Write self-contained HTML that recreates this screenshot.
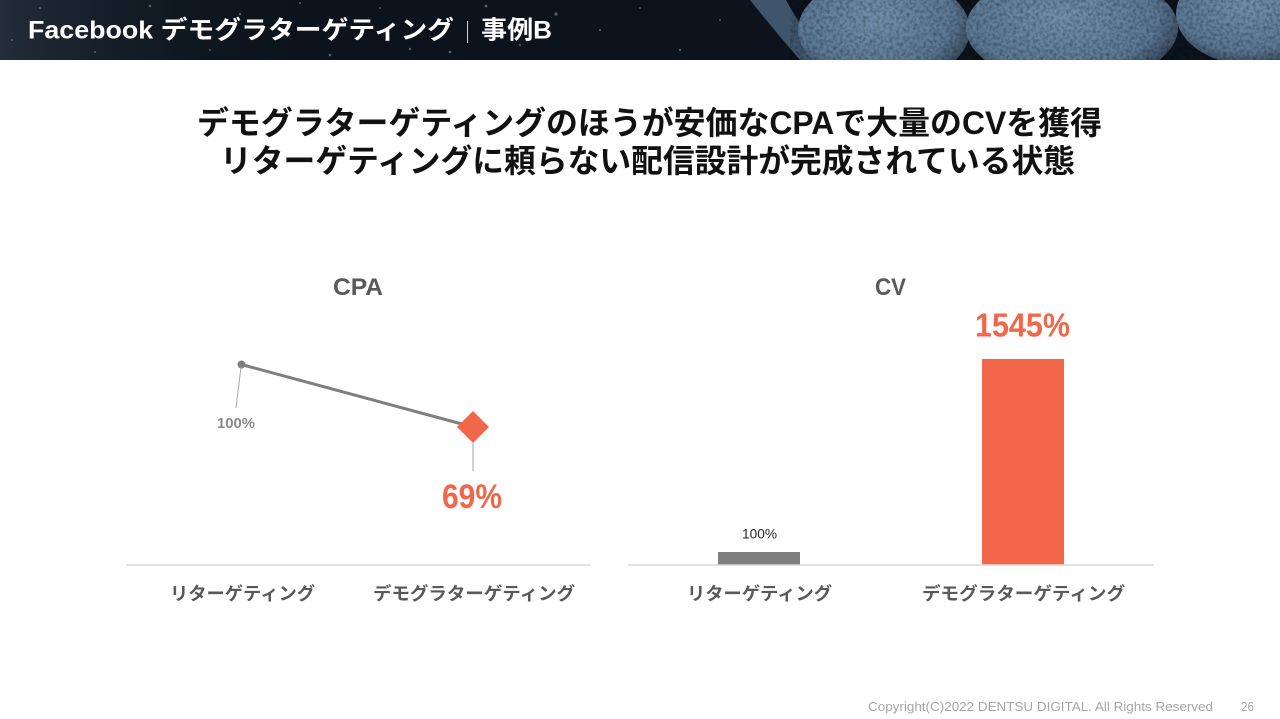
<!DOCTYPE html>
<html>
<head>
<meta charset="utf-8">
<style>
  html, body { margin: 0; padding: 0; background: #ffffff; }
  body { width: 1280px; height: 719px; overflow: hidden; position: relative; }
  svg { display: block; position: absolute; left: 0; top: 0; }
  text { font-family: "Liberation Sans", "Noto Sans CJK JP", sans-serif; }
</style>
</head>
<body>
<svg width="1280" height="719" viewBox="0 0 1280 719" xmlns="http://www.w3.org/2000/svg">
  <defs>
    <radialGradient id="rk" cx="45%" cy="40%" r="65%">
      <stop offset="0" stop-color="#7290ac"/>
      <stop offset="0.7" stop-color="#5b7793"/>
      <stop offset="1" stop-color="#2a3a4c"/>
    </radialGradient>
    <linearGradient id="lg" x1="0" y1="0" x2="1" y2="0">
      <stop offset="0" stop-color="#222d39"/>
      <stop offset="1" stop-color="#0c131c" stop-opacity="0"/>
    </linearGradient>
    <filter id="noise" x="0" y="0" width="100%" height="100%">
      <feTurbulence type="fractalNoise" baseFrequency="0.3" numOctaves="2" seed="3"/>
      <feColorMatrix type="matrix" values="0 0 0 0 0  0 0 0 0 0  0 0 0 0 0  0 0 0 -1.6 1.0"/>
    </filter>
    <clipPath id="hc"><rect x="0" y="0" width="1280" height="60"/></clipPath>
  </defs>

  <!-- Header -->
  <g clip-path="url(#hc)">
    <rect x="0" y="0" width="1280" height="60" fill="#0c131c"/>
    <rect x="0" y="0" width="320" height="60" fill="url(#lg)"/>
    <path d="M750 0 L786 0 Q804 34 834 60 L800 60 Q774 30 750 0 Z" fill="#3f556c"/>
    <ellipse cx="884" cy="30" rx="86" ry="54" fill="url(#rk)"/>
    <ellipse cx="1072" cy="28" rx="106" ry="56" fill="url(#rk)"/>
    <ellipse cx="1256" cy="14" rx="80" ry="52" fill="url(#rk)"/>
    <rect x="790" y="0" width="490" height="60" filter="url(#noise)" opacity="0.4"/>
    <g fill="#6d8297" opacity="0.7">
      <circle cx="40" cy="8" r="1.2"/><circle cx="95" cy="52" r="1"/><circle cx="150" cy="6" r="1.3"/>
      <circle cx="210" cy="50" r="1"/><circle cx="240" cy="14" r="1.2"/><circle cx="300" cy="3" r="1"/>
      <circle cx="330" cy="55" r="1.3"/><circle cx="380" cy="8" r="1"/><circle cx="410" cy="49" r="1.2"/>
      <circle cx="486" cy="6" r="1.4"/><circle cx="520" cy="45" r="1"/><circle cx="556" cy="14" r="1.6"/>
      <circle cx="600" cy="30" r="1.1"/><circle cx="640" cy="8" r="1"/><circle cx="680" cy="50" r="1.2"/>
      <circle cx="12" cy="40" r="1"/><circle cx="450" cy="52" r="1.3"/><circle cx="720" cy="20" r="1"/>
    </g>
    <text x="28" y="38.5" font-size="25" font-weight="bold" fill="#ffffff" textLength="426" lengthAdjust="spacingAndGlyphs">Facebook デモグラターゲティング</text>
    <line x1="467.5" y1="21" x2="467.5" y2="43" stroke="#cfd3d8" stroke-width="1"/>
    <text x="481" y="38.5" font-size="25" font-weight="bold" fill="#ffffff" textLength="71" lengthAdjust="spacingAndGlyphs">事例B</text>
  </g>

  <!-- Main title -->
  <text x="197" y="134" font-size="32" font-weight="bold" fill="#111111" textLength="905" lengthAdjust="spacingAndGlyphs">デモグラターゲティングのほうが安価なCPAで大量のCVを獲得</text>
  <text x="220" y="172" font-size="32" font-weight="bold" fill="#111111" textLength="855" lengthAdjust="spacingAndGlyphs">リターゲティングに頼らない配信設計が完成されている状態</text>

  <!-- CPA chart -->
  <text x="333" y="295" font-size="24" font-weight="bold" fill="#595959" textLength="50" lengthAdjust="spacingAndGlyphs">CPA</text>
  <line x1="126" y1="565" x2="590" y2="565" stroke="#d9d9d9" stroke-width="1.5"/>
  <line x1="241.5" y1="364.5" x2="473" y2="427" stroke="#7f7f7f" stroke-width="3"/>
  <circle cx="241.5" cy="364.5" r="4" fill="#7f7f7f"/>
  <line x1="241" y1="367" x2="236" y2="408" stroke="#a6a6a6" stroke-width="1"/>
  <text x="217" y="428" font-size="15" font-weight="bold" fill="#8a8a8a" textLength="38" lengthAdjust="spacingAndGlyphs">100%</text>
  <polygon points="473,411 489,427 473,443 457,427" fill="#f26649"/>
  <line x1="473" y1="443" x2="473" y2="471" stroke="#a6a6a6" stroke-width="1"/>
  <text x="442" y="508" font-size="34" font-weight="bold" fill="#f26649" textLength="60" lengthAdjust="spacingAndGlyphs">69%</text>
  <text x="170" y="600" font-size="18" font-weight="bold" fill="#595959" textLength="145" lengthAdjust="spacingAndGlyphs">リターゲティング</text>
  <text x="373" y="600" font-size="18" font-weight="bold" fill="#595959" textLength="202" lengthAdjust="spacingAndGlyphs">デモグラターゲティング</text>

  <!-- CV chart -->
  <text x="875" y="295" font-size="24" font-weight="bold" fill="#595959" textLength="31" lengthAdjust="spacingAndGlyphs">CV</text>
  <rect x="718" y="552" width="82" height="13" fill="#7f7f7f"/>
  <rect x="982" y="359" width="82" height="206" fill="#f26649"/>
  <line x1="628" y1="565" x2="1154" y2="565" stroke="#d9d9d9" stroke-width="1.5"/>
  <text x="742" y="538.5" font-size="13.5" fill="#262626" textLength="35" lengthAdjust="spacingAndGlyphs">100%</text>
  <text x="975" y="336.5" font-size="33" font-weight="bold" fill="#f26649" textLength="95" lengthAdjust="spacingAndGlyphs">1545%</text>
  <text x="687" y="600" font-size="18" font-weight="bold" fill="#595959" textLength="145" lengthAdjust="spacingAndGlyphs">リターゲティング</text>
  <text x="922" y="600" font-size="18" font-weight="bold" fill="#595959" textLength="203" lengthAdjust="spacingAndGlyphs">デモグラターゲティング</text>

  <!-- Footer -->
  <text x="868" y="711" font-size="12.5" fill="#a6a6a6" textLength="345" lengthAdjust="spacingAndGlyphs">Copyright(C)2022 DENTSU DIGITAL. All Rights Reserved</text>
  <text x="1241" y="711" font-size="12.5" fill="#a6a6a6" textLength="13" lengthAdjust="spacingAndGlyphs">26</text>
</svg>
</body>
</html>
